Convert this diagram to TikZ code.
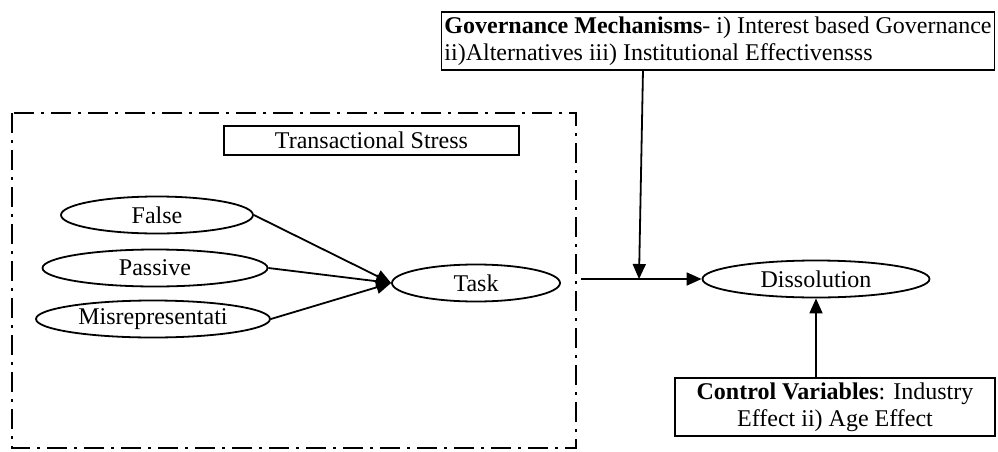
\documentclass[tikz,border=0pt]{standalone}
\usepackage{fontspec}
\setmainfont{Liberation Serif}
\usetikzlibrary{positioning, shapes.geometric, arrows.meta}

\begin{document}
\begin{tikzpicture}[
          x = 0.5pt, y = -0.5pt,
every node/.style = {font=\fontsize{12}{13.5}\selectfont},
       oval/.style = {ellipse, draw, line width=0.9pt, inner sep=0pt,
                      minimum width=#1, minimum height=18.5pt},
        box/.style = {rectangle, draw, line width=0.9pt, inner sep=1.5pt},
  frameline/.style = {line width=1.3pt,
                      dash pattern=on 10pt off 3.5pt on 1.5pt off 3.5pt},
                 > = {Triangle[length=7.5pt, width=6.5pt]},
        line width = 0.9pt
                        ]
\useasboundingbox (0,0) rectangle (998,451);
\draw[frameline] (12,113) rectangle (576,448);
\node (stress) [box, minimum width=147.5pt, minimum height=14.5pt] at (371.5,140.5) {Transactional Stress};
\node (false) [oval=96pt] at (157,215) {False};
\node (passive) [oval=112.5pt] at (155,268) {Passive};
\node (misrep) [oval=117pt] at (153,319) {Misrepresentati};
\node (task) [oval=84pt] at (476,283) {Task};
\node (diss) [oval=113.5pt] at (816,279) {Dissolution};
\node (gov) [box, align=left, minimum width=275pt, minimum height=29pt] at (718,41)
      {\textbf{Governance Mechanisms}- i) Interest based Governance\\ii)Alternatives iii) Institutional Effectivensss};
\node (ctrl) [box, align=center, minimum width=160pt, minimum height=29pt] at (835,407)
      {\textbf{Control Variables}: Industry\\Effect ii) Age Effect};
\coordinate (out) at (581,279);
\coordinate (govout) at (643,70);
\coordinate (join) at (639,279);
\draw[->] (false.east) to (task.west);
\draw[->] (passive.east) to (task.west);
\draw[->] (misrep.east) to (task.west);
\draw[->] (out) to (diss.west);
\draw[->] (govout) to (join);
\draw[->] (ctrl.north -| diss.south) to (diss.south);
\end{tikzpicture}
\end{document}
